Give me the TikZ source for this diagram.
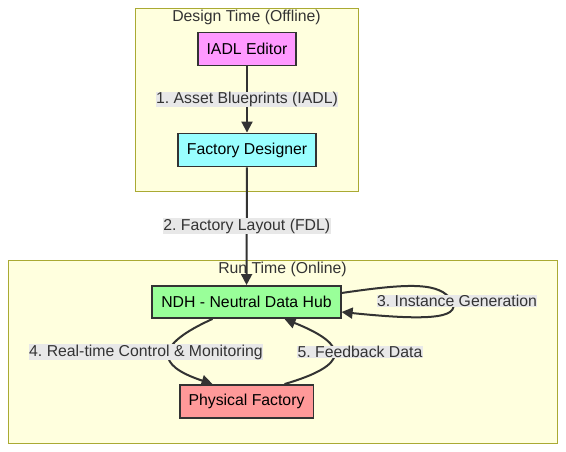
\documentclass[tikz,border=0pt]{standalone}
\usepackage{fontspec}
\setmainfont{Liberation Sans}
\usetikzlibrary{positioning,calc,arrows,arrows.meta}
\definecolor{clusterfill}{HTML}{FFFFDE}
\definecolor{clusterline}{HTML}{AAAA33}
\definecolor{edgecol}{HTML}{333333}
\definecolor{labelbg}{HTML}{E8E8E8}
\tikzset{font=\fontsize{15.8}{18}\selectfont}
\frenchspacing

\begin{document}
\begin{tikzpicture}[x=1pt,y=-1pt]
	\useasboundingbox (0,0) rectangle (566,452);
	\begin{scope}
		\tikzstyle{cluster}=[draw=clusterline, fill=clusterfill, line width=0.8pt, inner sep=0pt]
		\tikzstyle{title}=[text=edgecol, anchor=north, inner sep=1pt]
		\tikzstyle{box}=[draw=edgecol, line width=1.9pt, inner xsep=9pt, minimum height=33pt]
		\tikzstyle{edge}=[draw=edgecol, line width=2pt, -{Triangle[length=11pt,width=11pt]}]
		\tikzstyle{elabel}=[fill=labelbg, text=edgecol, inner sep=0.5pt]

		% clusters
		\node[cluster, minimum width=223pt, minimum height=183pt] (design) at (246.5,99.5) {};
		\node[title] (designtitle) at ([yshift=-1pt]design.north) {Design Time (Offline)};
		\node[cluster, minimum width=549pt, minimum height=183pt] (run) at (282.5,351.5) {};
		\node[title] (runtitle) at ([yshift=-1pt]run.north) {Run Time (Online)};

		% nodes
		\node[box, fill={rgb,255:red,255;green,153;blue,255}] (iadl) at (247,49) {IADL Editor};
		\node[box, fill={rgb,255:red,153;green,255;blue,255}] (designer) at (247,150) {Factory Designer};
		\node[box, fill={rgb,255:red,153;green,255;blue,153}, minimum height=32pt] (ndh) at (246.5,302) {NDH - Neutral Data Hub};
		\node[box, fill={rgb,255:red,255;green,153;blue,153}] (factory) at (246.5,401.5) {Physical Factory};

		% edges
		\draw[edge] (iadl) -- node[elabel] {1. Asset Blueprints (IADL)} (designer);
		\draw[edge] (designer) -- node[elabel] {2. Factory Layout (FDL)} (ndh);
		\coordinate (loopturn) at (452,301);
		\draw[edge] ([yshift=9pt]ndh.east) .. controls (410,283) and (440,282) .. (loopturn)
			.. controls (462,320) and (420,320) .. ([yshift=-10pt]ndh.east);
		\node[elabel] (instlabel) at (457,301) {3. Instance Generation};
		\draw[edge] ([xshift=-34pt]ndh.south) .. controls (155,345) and (155,365) .. ([xshift=-34pt]factory.north);
		\node[elabel] (ctrllabel) at (146,352) {4. Real-time Control \& Monitoring};
		\draw[edge] ([xshift=38pt]factory.north) .. controls (350,365) and (350,345) .. ([xshift=38pt]ndh.south);
		\node[elabel] (feedlabel) at (360,352) {5. Feedback Data};

	\end{scope}
\end{tikzpicture}
\end{document}
